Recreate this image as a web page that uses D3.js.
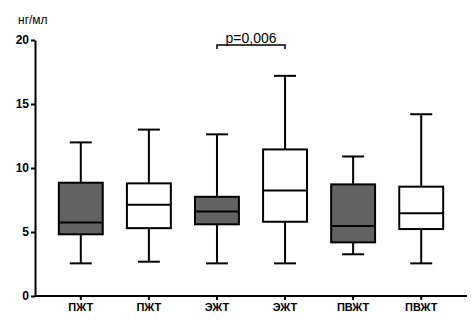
<!DOCTYPE html>
<html>
<head>
<meta charset="utf-8">
<script src="https://cdn.jsdelivr.net/npm/d3@7"></script>
<style>
  body { margin: 0; background: #fff; }
  text { font-family: Arial, "Liberation Sans", sans-serif; }
</style>
</head>
<body>
<div id="container"></div>
<script>
/* DATA */
const groups = ["ПЖТ", "ПЖТ", "ЭЖТ", "ЭЖТ", "ПВЖТ", "ПВЖТ"];
const shaded = [true, false, true, false, true, false];
const mins = [2.55, 2.68, 2.55, 2.55, 3.26, 2.55];
const q1s = [4.82, 5.3, 5.6, 5.8, 4.19, 5.23];
const medians = [5.75, 7.13, 6.6, 8.25, 5.47, 6.46];
const q3s = [8.85, 8.8, 7.75, 11.45, 8.72, 8.54];
const maxs = [12.0, 13.0, 12.63, 17.2, 10.9, 14.2];
const yTicks = [0, 5, 10, 15, 20];
const pLabel = "p=0,006";
const unitLabel = "нг/мл";

/* CONSTANTS */
const width = 473, height = 328;
const margin = { top: 40, bottom: 32, left: 35, right: 6 };

const data = groups.map((g, i) => ({
  i, g, shaded: shaded[i], min: mins[i], q1: q1s[i], med: medians[i], q3: q3s[i], max: maxs[i]
}));

// SCALES
const xScale = d3.scaleBand()
  .domain(d3.range(groups.length))
  .range([margin.left, width - margin.right])
  .paddingInner(0.355)
  .paddingOuter(0.35);

const yScale = d3.scaleLinear()
  .domain([0, 20])
  .range([height - margin.bottom, margin.top]);

const svg = d3.select("#container")
  .append("svg")
  .attr("width", width)
  .attr("height", height)
  .style("background-color", "white");

// AXES
const yAxis = d3.axisLeft(yScale).tickValues(yTicks).tickSize(4).tickSizeOuter(0);
const gy = svg.append("g")
  .attr("transform", `translate(${margin.left}, 0)`)
  .call(yAxis);
gy.select(".domain").attr("stroke-width", 2);
gy.selectAll(".tick line").attr("stroke-width", 2);
gy.selectAll(".tick text")
  .attr("x", -6)
  .style("font-size", "12px")
  .style("font-weight", "bold")
  .attr("fill", "#000");

const xAxis = d3.axisBottom(xScale).tickFormat(i => groups[i]).tickSize(4).tickSizeOuter(0);
const gx = svg.append("g")
  .attr("transform", `translate(0, ${yScale(0)})`)
  .call(xAxis);
gx.select(".domain").attr("stroke-width", 2).attr("d", `M${margin.left},0H${width - margin.right}`);
gx.selectAll(".tick line").attr("stroke-width", 2);
gx.selectAll(".tick text")
  .attr("y", 7)
  .style("font-size", "11px")
  .style("font-weight", "bold")
  .attr("fill", "#000");

// BOXES
const bw = xScale.bandwidth();
const boxes = svg.selectAll(".box")
  .data(data)
  .join("g")
  .attr("class", "box")
  .attr("transform", d => `translate(${xScale(d.i)}, 0)`);

boxes.append("line")
  .attr("x1", bw / 2).attr("x2", bw / 2)
  .attr("y1", d => yScale(d.max)).attr("y2", d => yScale(d.min))
  .attr("stroke", "black").attr("stroke-width", 2);

boxes.append("line")
  .attr("x1", bw / 4).attr("x2", bw * 3 / 4)
  .attr("y1", d => yScale(d.max)).attr("y2", d => yScale(d.max))
  .attr("stroke", "black").attr("stroke-width", 2);

boxes.append("line")
  .attr("x1", bw / 4).attr("x2", bw * 3 / 4)
  .attr("y1", d => yScale(d.min)).attr("y2", d => yScale(d.min))
  .attr("stroke", "black").attr("stroke-width", 2);

boxes.append("rect")
  .attr("x", 0)
  .attr("width", bw)
  .attr("y", d => yScale(d.q3))
  .attr("height", d => yScale(d.q1) - yScale(d.q3))
  .attr("fill", d => d.shaded ? "#626262" : "white")
  .attr("stroke", "black").attr("stroke-width", 2);

boxes.append("line")
  .attr("x1", 0).attr("x2", bw)
  .attr("y1", d => yScale(d.med)).attr("y2", d => yScale(d.med))
  .attr("stroke", "black").attr("stroke-width", 2);

// SIGNIFICANCE BRACKET
const xa = xScale(2) + bw / 2, xb = xScale(3) + bw / 2, yb = 45;
svg.append("path")
  .attr("d", `M${xa},${yb + 4}V${yb}H${xb}V${yb + 4}`)
  .attr("fill", "none").attr("stroke", "black").attr("stroke-width", 1.5);
svg.append("text")
  .attr("x", (xa + xb) / 2).attr("y", yb - 2)
  .attr("text-anchor", "middle")
  .style("font-size", "14px")
  .text(pLabel);

// UNIT LABEL
svg.append("text")
  .attr("x", 18).attr("y", 24)
  .style("font-size", "12px")
  .text(unitLabel);
</script>
</body>
</html>
